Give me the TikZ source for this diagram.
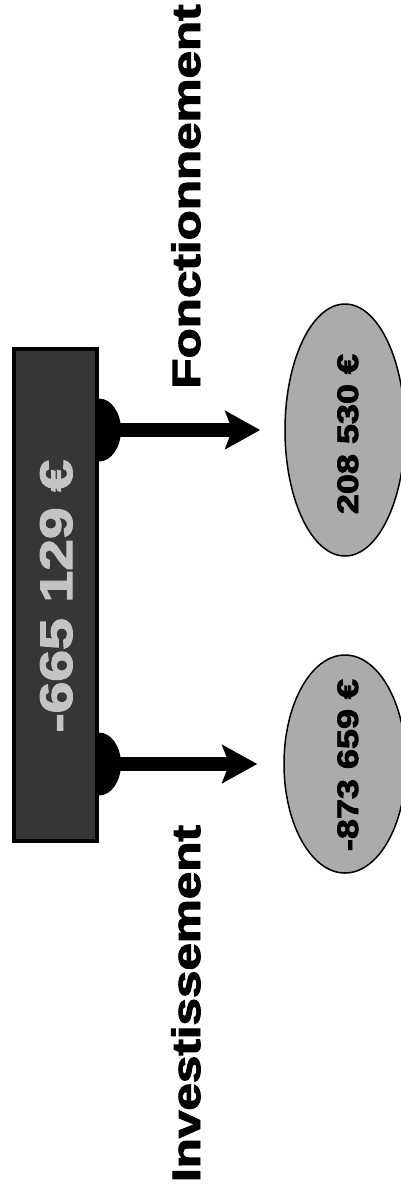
\documentclass[tikz,border=0pt]{standalone}
\usepackage{fontspec}
\setmainfont{Liberation Sans}[BoldFeatures={FakeBold=2.5}]
\usetikzlibrary{arrows.meta,shapes.geometric,backgrounds}
\definecolor{boxfill}{HTML}{363636}
\definecolor{boxtext}{HTML}{C4C4C4}
\definecolor{ellfill}{HTML}{ABABAB}
\begin{document}
\begin{tikzpicture}[x=1pt,y=-1pt,
  sidelabel/.style={font=\fontsize{49.4}{50}\selectfont\bfseries, inner sep=0pt, anchor=base, xscale=0.8, rotate=90},
  valtext/.style={font=\fontsize{36}{37}\selectfont\bfseries, inner sep=0pt, anchor=base, xscale=0.82, rotate=90},
  tottext/.style={font=\fontsize{57}{58}\selectfont\bfseries, text=boxtext, inner sep=0pt, anchor=base, xscale=0.8, rotate=90},
  totbox/.style={draw=black, line width=4pt, fill=boxfill, minimum width=83pt, minimum height=492pt, inner sep=0pt},
  valell/.style={ellipse, draw=black, line width=1.5pt, fill=ellfill, inner sep=0pt},
  flow/.style={line width=14pt, -{Stealth[length=35pt, width=38pt, inset=7pt]}},
  tail/.style={fill=black}]
\useasboundingbox (0,0) rectangle (401,1194);
\clip (0,0) rectangle (401,1194);

\node[totbox] (tot) at (55.5,595) {};
\node[tottext] (totlbl) at (72,596) {-665 129 €};

\node[valell, minimum width=120pt, minimum height=252pt] (e1) at (345,430) {};
\node[valell, minimum width=122pt, minimum height=218pt] (e2) at (345,764) {};
\node[valtext] (v1) at (358,434) {208 530 €};
\node[valtext] (v2) at (358,765) {-873 659 €};

\node[sidelabel] (fonc) at (200,196.5) {Fonctionnement};
\node[sidelabel] (inv) at (200,1003.5) {Investissement};

\begin{scope}[on background layer]
  \fill[tail] (tot.east |- e1.center) ellipse [x radius=22pt, y radius=31.5pt];
  \fill[tail] (tot.east |- e2.center) ellipse [x radius=22pt, y radius=31.5pt];
\end{scope}
\draw[flow] (tot.east |- e1.center) -- ([xshift=-24pt]e1.west);
\draw[flow] (tot.east |- e2.center) -- ([xshift=-26pt]e2.west);
\end{tikzpicture}
\end{document}
